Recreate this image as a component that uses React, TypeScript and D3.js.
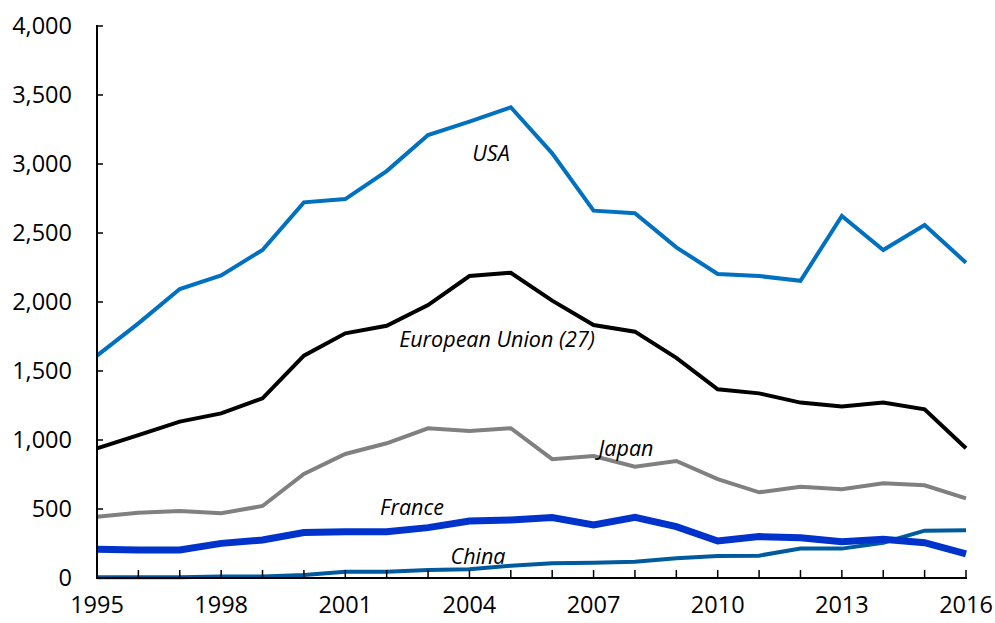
import React, { useEffect } from "react";
import * as d3 from "d3";

const years = [1995, 1996, 1997, 1998, 1999, 2000, 2001, 2002, 2003, 2004, 2005, 2006, 2007, 2008, 2009, 2010, 2011, 2012, 2013, 2014, 2015, 2016];
const usa = [1611, 1845, 2094, 2193, 2377, 2722, 2746, 2949, 3210, 3307, 3411, 3077, 2662, 2643, 2396, 2203, 2188, 2154, 2623, 2377, 2558, 2285];
const eu = [940, 1036, 1133, 1193, 1302, 1611, 1773, 1828, 1978, 2188, 2212, 2010, 1833, 1785, 1595, 1367, 1338, 1271, 1242, 1271, 1222, 940];
const japan = [444, 473, 486, 469, 522, 754, 899, 976, 1085, 1065, 1085, 861, 884, 807, 848, 717, 621, 662, 643, 686, 672, 577];
const france = [208, 203, 203, 251, 275, 329, 336, 336, 365, 413, 420, 438, 384, 440, 372, 268, 300, 292, 263, 280, 256, 174];
const china = [5, 5, 5, 10, 10, 22, 46, 46, 58, 63, 89, 106, 111, 118, 143, 159, 162, 213, 213, 256, 343, 346];
const yTicks = [0, 500, 1000, 1500, 2000, 2500, 3000, 3500, 4000];
const xTickLabels = [1995, 1998, 2001, 2004, 2007, 2010, 2013, 2016];

const W = 995, H = 623;
const left = 97, right = 966, top = 26, bottom = 578;

const series = [
  { name: "China", values: china, color: "#005A9E", width: 4 },
  { name: "France", values: france, color: "#0033CC", width: 7 },
  { name: "Japan", values: japan, color: "#808080", width: 4 },
  { name: "EU", values: eu, color: "#000000", width: 4 },
  { name: "USA", values: usa, color: "#0070C0", width: 4 },
];

const labels = [
  { text: "USA", x: 491, y: 161 },
  { text: "European Union (27)", x: 497, y: 347 },
  { text: "Japan", x: 626, y: 456 },
  { text: "France", x: 412, y: 515 },
  { text: "China", x: 478, y: 564 },
];

export default function App() {
  useEffect(() => {
    document.body.style.margin = "0";
  }, []);
  const x = d3.scaleLinear().domain([1995, 2016]).range([left, right]);
  const y = d3.scaleLinear().domain([0, 4000]).range([bottom, top]);
  const line = d3.line<number>().x((_, i) => x(years[i])).y((d) => y(d)).curve(d3.curveLinear);
  const fmt = d3.format(",");
  const font = "'Open Sans', sans-serif";
  return (
    <svg width={W} height={H} style={{ display: "block", background: "#fff" }}>
      {series.map((s) => (
        <path key={s.name} d={line(s.values) || ""} fill="none" stroke={s.color} strokeWidth={s.width} strokeLinejoin="miter" strokeLinecap="butt" />
      ))}
      <line x1={left} x2={left} y1={top - 1} y2={bottom} stroke="#000" strokeWidth={2} />
      <line x1={left - 1} x2={right + 1} y1={bottom} y2={bottom} stroke="#000" strokeWidth={2} />
      {yTicks.map((t) => (
        <g key={t}>
          <line x1={left} x2={left + 6} y1={y(t)} y2={y(t)} stroke="#000" strokeWidth={1.5} />
          <text x={72} y={y(t)} dy="0.35em" textAnchor="end" fontFamily={font} fontSize={23.5} fill="#000">{fmt(t)}</text>
        </g>
      ))}
      {years.map((yr) => (
        <line key={yr} x1={x(yr)} x2={x(yr)} y1={bottom} y2={bottom - 8} stroke="#000" strokeWidth={1.5} />
      ))}
      {xTickLabels.map((yr) => (
        <text key={yr} x={x(yr)} y={613} textAnchor="middle" fontFamily={font} fontSize={23.5} fill="#000">{yr}</text>
      ))}
      {labels.map((l) => (
        <text key={l.text} x={l.x} y={l.y} textAnchor="middle" fontFamily={font} fontStyle="italic" fontSize={21.5} fill="#000">{l.text}</text>
      ))}
    </svg>
  );
}
